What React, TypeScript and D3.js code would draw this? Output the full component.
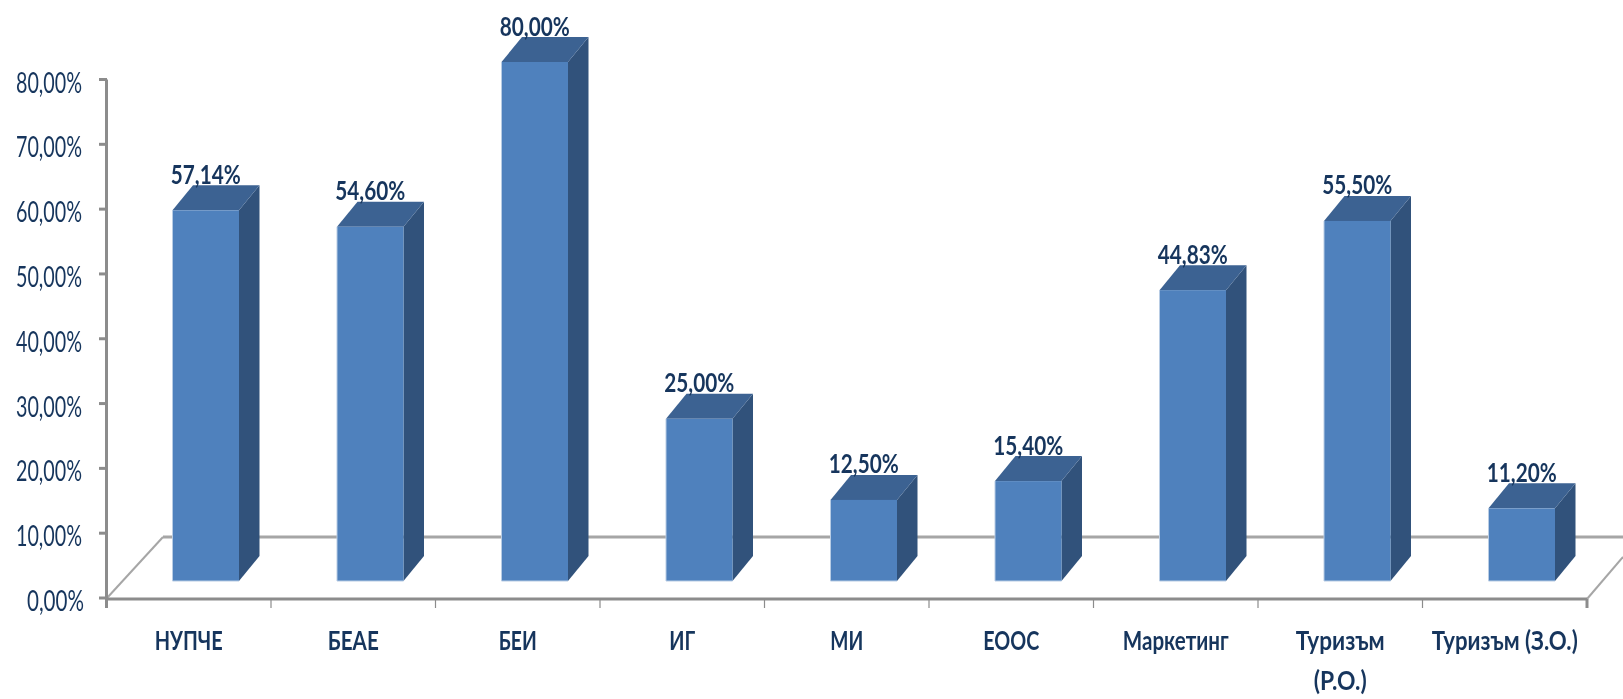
import { useEffect, useRef } from 'react';
import * as d3 from 'd3';

const categories = ['НУПЧЕ', 'БЕАЕ', 'БЕИ', 'ИГ', 'МИ', 'ЕООС', 'Маркетинг', 'Туризъм (Р.О.)', 'Туризъм (З.О.)'];
const values = [57.14, 54.6, 80, 25, 12.5, 15.4, 44.83, 55.5, 11.2];
const axisTicks = [0, 10, 20, 30, 40, 50, 60, 70, 80];
// categories that the chart breaks over two lines
const wrapped = ['Туризъм (Р.О.)'];

const WIDTH = 1623;
const HEIGHT = 699;

const pct = (v: number) => v.toFixed(2).replace('.', ',') + '%';

export default function App() {
  const svgRef = useRef<SVGSVGElement>(null);

  useEffect(() => {
    if (!svgRef.current) return;
    const svg = d3.select(svgRef.current);
    svg.selectAll('*').remove();

    const font = 'Lato, sans-serif';
    const textColor = '#17365d';
    const axisColor = '#8c8c8c';

    const defs = svg.append('defs');
    defs.append('filter').attr('id', 'soft')
      .append('feGaussianBlur').attr('stdDeviation', 0.45);

    const x = d3.scaleBand<string>().domain(categories).range([106.5, 1587]);
    // axis on the front plane, bars stand a bit further back
    const yAxis = d3.scaleLinear().domain([0, 80]).range([598, 79.5]);
    const yBar = d3.scaleLinear().domain([0, 80]).range([581, 62]);

    const barOffset = 66;
    const barWidth = 66.5;
    const depthX = 20.5;
    const depthY = 25;

    // floor
    const floor = svg.append('g').attr('fill', 'none').attr('stroke', axisColor);
    floor.append('path').attr('d', 'M107,598L163,537').attr('stroke-width', 2).attr('stroke', '#a6a6a6');
    floor.append('path').attr('d', 'M163,537L1623,537').attr('stroke-width', 3).attr('stroke', '#a6a6a6');
    floor.append('path').attr('d', 'M1587,599L1623,557').attr('stroke-width', 2).attr('stroke', '#a6a6a6');
    floor.append('path').attr('d', `M106.5,${yAxis(80)}V600`).attr('stroke-width', 3);
    floor.append('path').attr('d', 'M106,599H1587').attr('stroke-width', 3);

    floor.selectAll('line.ytick')
      .data(axisTicks)
      .join('line')
      .attr('class', 'ytick')
      .attr('x1', 99).attr('x2', 107)
      .attr('y1', d => yAxis(d)).attr('y2', d => yAxis(d))
      .attr('stroke-width', 3);

    floor.selectAll('line.xtick')
      .data([...categories.map(c => x(c) as number), 1587])
      .join('line')
      .attr('class', 'xtick')
      .attr('x1', d => d).attr('x2', d => d)
      .attr('y1', 599).attr('y2', 608)
      .attr('stroke-width', (d, i) => (i === 0 || i === categories.length ? 3 : 1.2));

    // bars
    const bars = svg.append('g')
      .selectAll('g')
      .data(categories.map((c, i) => ({ c, v: values[i] })))
      .join('g')
      .attr('transform', d => `translate(${(x(d.c) as number) + barOffset},0)`);

    bars.append('path')
      .attr('fill', '#31527b')
      .attr('d', d => `M${barWidth},${yBar(d.v)}L${barWidth + depthX},${yBar(d.v) - depthY}V${yBar(0) - depthY}L${barWidth},${yBar(0)}Z`);
    bars.append('path')
      .attr('fill', '#3c6292')
      .attr('d', d => `M0,${yBar(d.v)}L${depthX},${yBar(d.v) - depthY}H${barWidth + depthX}L${barWidth},${yBar(d.v)}Z`);
    bars.append('rect')
      .attr('fill', '#4f81bd')
      .attr('y', d => yBar(d.v))
      .attr('width', barWidth)
      .attr('height', d => yBar(0) - yBar(d.v));
    // pale edge down the left side and along the bottom
    bars.append('path')
      .attr('fill', 'none')
      .attr('stroke', '#b8cce4')
      .attr('stroke-width', 1)
      .attr('d', d => `M0,${yBar(d.v)}V${yBar(0)}H${barWidth}`);

    const texts = svg.append('g').attr('font-family', font).attr('fill', textColor).attr('filter', 'url(#soft)');

    // y tick labels, squeezed like the original narrow face
    texts.selectAll('text.ylab')
      .data(axisTicks)
      .join('text')
      .attr('class', 'ylab')
      .attr('x', d => (d === 0 ? 84 : 82))
      .attr('y', d => yAxis(d) + 13)
      .attr('text-anchor', 'end')
      .attr('font-size', 29)
      .attr('textLength', d => (d === 0 ? 57 : 66))
      .attr('lengthAdjust', 'spacingAndGlyphs')
      .text(d => pct(d));

    // value labels
    texts.selectAll('text.vlab')
      .data(categories.map((c, i) => ({ c, v: values[i] })))
      .join('text')
      .attr('class', 'vlab')
      .attr('x', d => (x(d.c) as number) + barOffset + barWidth / 2)
      .attr('y', d => yBar(d.v) - depthY - 1.5)
      .attr('text-anchor', 'middle')
      .attr('font-size', 27)
      .attr('font-weight', 700)
      .attr('textLength', 70)
      .attr('lengthAdjust', 'spacingAndGlyphs')
      .text(d => pct(d.v));

    // category labels
    const catWidths: Record<string, number> = {
      'НУПЧЕ': 68, 'БЕАЕ': 51, 'БЕИ': 38, 'ИГ': 26, 'МИ': 33, 'ЕООС': 56, 'Маркетинг': 106,
      'Туризъм': 89, '(Р.О.)': 53, 'Туризъм (З.О.)': 146,
    };
    categories.forEach(c => {
      const lines = wrapped.includes(c) ? c.split(' ') : [c];
      lines.forEach((line, i) => {
        texts.append('text')
          .attr('x', (x(c) as number) + x.bandwidth() / 2)
          .attr('y', 650 + i * 40)
          .attr('text-anchor', 'middle')
          .attr('font-size', 27)
          .attr('font-weight', 700)
          .attr('textLength', catWidths[line])
          .attr('lengthAdjust', 'spacingAndGlyphs')
          .text(line);
      });
    });
  }, []);

  return (
    <svg
      ref={svgRef}
      width={WIDTH}
      height={HEIGHT}
      style={{ position: 'absolute', left: 0, top: 0, display: 'block', background: '#fff' }}
    />
  );
}
